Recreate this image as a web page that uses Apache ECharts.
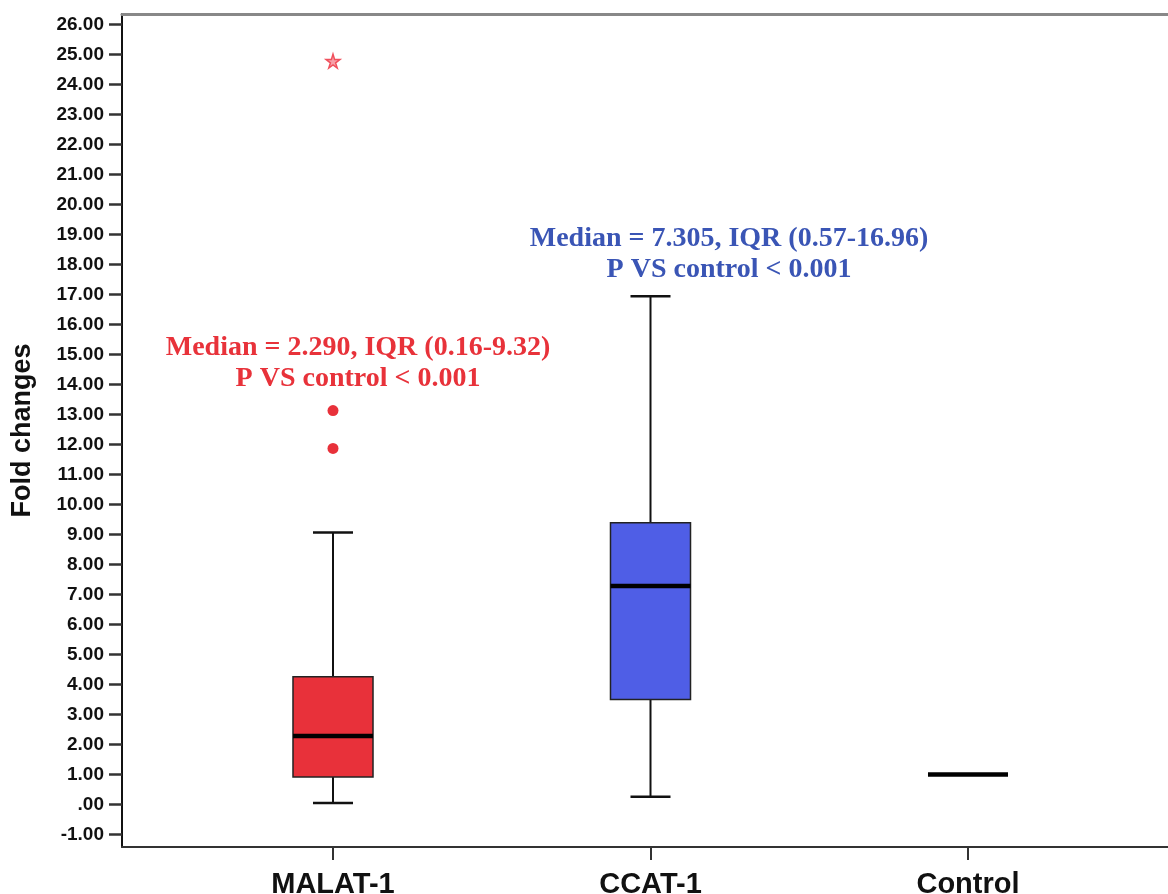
<!DOCTYPE html>
<html>
<head>
<meta charset="utf-8">
<script src="https://cdn.jsdelivr.net/npm/echarts@6/dist/echarts.min.js"></script>
<style>html,body{margin:0;padding:0;background:#fff}#c{width:1168px;height:894px}</style>
</head>
<body>
<div id="c"></div>
<script>
// ---- data ----
const categories = ['MALAT-1', 'CCAT-1', 'Control'];
const whiskerLow = [0.05, 0.26, 1.0];
const q1Values = [0.92, 3.50, 1.0];
const medianValues = [2.28, 7.28, 1.0];
const q3Values = [4.26, 9.39, 1.0];
const whiskerHigh = [9.07, 16.94, 1.0];
const outlierCircles = [[0, 13.13], [0, 11.87]];
const outlierExtremes = [[0, 24.78]];
const yTickValues = [-1,0,1,2,3,4,5,6,7,8,9,10,11,12,13,14,15,16,17,18,19,20,21,22,23,24,25,26];
const annotations = [
  { lines: ['Median = 2.290, IQR (0.16-9.32)', 'P VS control < 0.001'], color: '#e8323a' },
  { lines: ['Median = 7.305, IQR (0.57-16.96)', 'P VS control < 0.001'], color: '#3a55b5' }
];

// ---- styles ----
const fillColors = ['#e8313a', '#4f5ee6', '#4f5ee6'];
const Y_MIN = -1.417, Y_MAX = 26.35;
const sans = '"Liberation Sans", Arial, sans-serif';
const serif = '"Liberation Serif", "Times New Roman", serif';

const boxData = categories.map((c, i) => [i, whiskerLow[i], q1Values[i], medianValues[i], q3Values[i], whiskerHigh[i]]);

const chart = echarts.init(document.getElementById('c'), null, { renderer: 'canvas' });

function renderBox(params, api) {
  const x = api.value(0);
  const lo = api.coord([x, api.value(1)]);
  const q1 = api.coord([x, api.value(2)]);
  const med = api.coord([x, api.value(3)]);
  const q3 = api.coord([x, api.value(4)]);
  const hi = api.coord([x, api.value(5)]);
  const band = api.size([1, 0])[0];
  const w = band * 0.252;
  const cap = w / 2;
  const cx = lo[0];
  const lineStyle = { stroke: '#111', lineWidth: 2 };
  return {
    type: 'group',
    children: [
      { type: 'line', shape: { x1: cx, y1: q3[1], x2: cx, y2: hi[1] }, style: lineStyle },
      { type: 'line', shape: { x1: cx, y1: lo[1], x2: cx, y2: q1[1] }, style: lineStyle },
      { type: 'line', shape: { x1: cx - cap / 2, y1: hi[1], x2: cx + cap / 2, y2: hi[1] }, style: { stroke: '#111', lineWidth: 2.5 } },
      { type: 'line', shape: { x1: cx - cap / 2, y1: lo[1], x2: cx + cap / 2, y2: lo[1] }, style: { stroke: '#111', lineWidth: 2.5 } },
      { type: 'rect', shape: { x: cx - w / 2, y: q3[1], width: w, height: q1[1] - q3[1] },
        style: { fill: fillColors[params.dataIndex], stroke: '#222', lineWidth: 1.5 } },
      { type: 'line', shape: { x1: cx - w / 2, y1: med[1], x2: cx + w / 2, y2: med[1] }, style: { stroke: '#000', lineWidth: 4.5 } }
    ]
  };
}

const graphics = [];
const annoPos = [[358, 348], [729, 239]];
annotations.forEach((a, i) => {
  a.lines.forEach((t, j) => {
    graphics.push({
      type: 'text',
      x: annoPos[i][0], y: annoPos[i][1] + j * 31,
      style: { text: t, fill: a.color, font: 'bold 28px ' + serif, textAlign: 'center', textVerticalAlign: 'middle' }
    });
  });
});

chart.setOption({
  animation: false,
  backgroundColor: '#fff',
  grid: [
    { left: 122, right: 0, top: 14, bottom: 47, containLabel: false, outerBoundsMode: 'none' },
    { left: 174.25, right: 41.25, top: 14, bottom: 47, containLabel: false, outerBoundsMode: 'none' }
  ],
  xAxis: [
    { gridIndex: 0, type: 'value', min: 0, max: 1, position: 'bottom',
      axisLine: { show: true, onZero: false, lineStyle: { color: '#333', width: 2 } },
      axisTick: { show: false }, axisLabel: { show: false }, splitLine: { show: false } },
    { gridIndex: 0, type: 'value', min: 0, max: 1, position: 'top',
      axisLine: { show: true, onZero: false, lineStyle: { color: '#888', width: 3 } },
      axisTick: { show: false }, axisLabel: { show: false }, splitLine: { show: false } },
    { gridIndex: 1, type: 'category', data: categories, boundaryGap: true,
      axisLine: { show: false, onZero: false },
      axisTick: { show: true, alignWithLabel: true, length: 13, lineStyle: { color: '#333', width: 2 } },
      axisLabel: { fontFamily: sans, fontWeight: 'bold', fontSize: 29, color: '#111', margin: 23 },
      splitLine: { show: false } }
  ],
  yAxis: [
    { gridIndex: 0, type: 'value', min: Y_MIN, max: Y_MAX,
      name: 'Fold changes', nameLocation: 'middle', nameGap: 86, nameRotate: 90, nameMoveOverlap: false,
      nameTextStyle: { fontFamily: sans, fontWeight: 'bold', fontSize: 27, color: '#111' },
      axisLine: { show: true, onZero: false, lineStyle: { color: '#111', width: 2 } },
      axisTick: { show: true, length: 13, lineStyle: { color: '#333', width: 2.5 }, customValues: yTickValues },
      axisLabel: { fontFamily: sans, fontWeight: 'bold', fontSize: 19, color: '#111', margin: 18,
        customValues: yTickValues,
        formatter: v => (Math.abs(v) < 1e-9 ? '.00' : v.toFixed(2)) },
      splitLine: { show: false } },
    { gridIndex: 1, type: 'value', min: Y_MIN, max: Y_MAX, show: false, splitLine: { show: false } }
  ],
  series: [
    { type: 'custom', xAxisIndex: 2, yAxisIndex: 1, data: boxData, renderItem: renderBox,
      encode: { x: 0, y: [1, 2, 3, 4, 5] }, clip: false, z: 3 },
    { type: 'scatter', xAxisIndex: 2, yAxisIndex: 1, data: outlierCircles, symbol: 'circle', symbolSize: 11,
      itemStyle: { color: '#e8313a', opacity: 1 }, z: 4 },
    { type: 'scatter', xAxisIndex: 2, yAxisIndex: 1, data: outlierExtremes,
      symbol: 'path://M50,0 L61,35 L98,35 L68,57 L79,91 L50,70 L21,91 L32,57 L2,35 L39,35 Z', symbolSize: 14,
      itemStyle: { color: '#f7a0a8', borderColor: '#f0505c', borderWidth: 1.5, opacity: 1 }, z: 4 }
  ],
  graphic: graphics
});
</script>
</body>
</html>
